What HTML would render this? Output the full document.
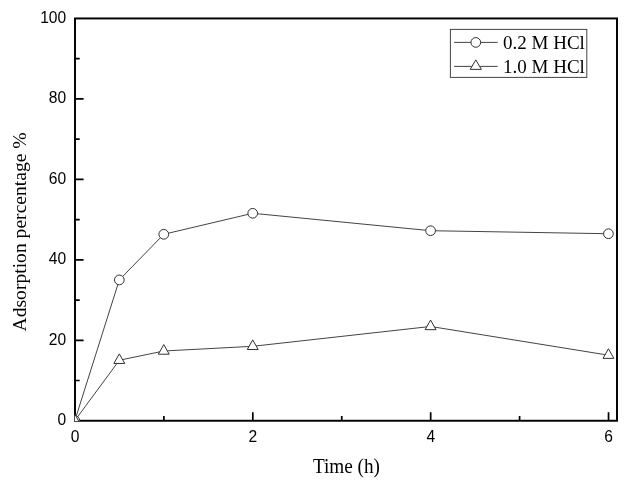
<!DOCTYPE html><html><head><meta charset="utf-8"><title>Adsorption percentage vs Time</title><style>html,body{margin:0;padding:0;background:#fff}svg{display:block}</style></head><body>
<svg xmlns="http://www.w3.org/2000/svg" width="638" height="484" viewBox="0 0 638 484">
<rect width="638" height="484" fill="#fff"/>
<defs><clipPath id="c"><rect x="74.85" y="18.45" width="542.15" height="402.50"/></clipPath></defs>
<g clip-path="url(#c)">
<polyline fill="none" stroke="#444" stroke-width="1" points="74.85,420.60 119.31,279.92 163.78,234.29 252.71,213.29 430.57,230.71 608.43,233.73"/>
<polyline fill="none" stroke="#444" stroke-width="1" points="74.85,420.60 119.31,360.25 163.78,351.00 252.71,346.30 430.57,326.46 608.43,355.19"/>
<circle cx="119.31" cy="279.92" r="4.85" fill="#fff" stroke="#303030" stroke-width="1"/>
<circle cx="163.78" cy="234.29" r="4.85" fill="#fff" stroke="#303030" stroke-width="1"/>
<circle cx="252.71" cy="213.29" r="4.85" fill="#fff" stroke="#303030" stroke-width="1"/>
<circle cx="430.57" cy="230.71" r="4.85" fill="#fff" stroke="#303030" stroke-width="1"/>
<circle cx="608.43" cy="233.73" r="4.85" fill="#fff" stroke="#303030" stroke-width="1"/>
<path d="M119.31 353.86 L124.77 363.45 L113.86 363.45 Z" fill="#fff" stroke="#303030" stroke-width="1"/>
<path d="M163.78 344.60 L169.23 354.20 L158.33 354.20 Z" fill="#fff" stroke="#303030" stroke-width="1"/>
<path d="M252.71 339.90 L258.16 349.50 L247.26 349.50 Z" fill="#fff" stroke="#303030" stroke-width="1"/>
<path d="M430.57 320.06 L436.02 329.66 L425.12 329.66 Z" fill="#fff" stroke="#303030" stroke-width="1"/>
<path d="M608.43 348.79 L613.88 358.39 L602.98 358.39 Z" fill="#fff" stroke="#303030" stroke-width="1"/>
</g>
<rect x="75.00" y="18.45" width="542.00" height="402.30" fill="none" stroke="#000" stroke-width="1.95"/>
<path d="M75.00 380.52 h4.70 M75.00 340.29 h8.60 M75.00 300.06 h4.70 M75.00 259.83 h8.60 M75.00 219.60 h4.70 M75.00 179.37 h8.60 M75.00 139.14 h4.70 M75.00 98.91 h8.60 M75.00 58.68 h4.70 M163.88 420.75 v-4.70 M252.81 420.75 v-8.60 M341.74 420.75 v-4.70 M430.67 420.75 v-8.60 M519.60 420.75 v-4.70 M608.53 420.75 v-8.60" stroke="#000" stroke-width="1.7" fill="none"/>
<g clip-path="url(#c)"><circle cx="74.85" cy="420.60" r="4.85" fill="#fff" stroke="#303030" stroke-width="1"/><path d="M74.85 414.20 L80.30 423.80 L69.40 423.80 Z" fill="#fff" stroke="#303030" stroke-width="1"/></g>
<g font-family="'Liberation Sans', Arial, sans-serif" font-size="16" fill="#000">
<text transform="translate(66.2 425.20) scale(0.975 1)" text-anchor="end">0</text>
<text transform="translate(66.2 344.74) scale(0.975 1)" text-anchor="end">20</text>
<text transform="translate(66.2 264.28) scale(0.975 1)" text-anchor="end">40</text>
<text transform="translate(66.2 183.82) scale(0.975 1)" text-anchor="end">60</text>
<text transform="translate(66.2 103.36) scale(0.975 1)" text-anchor="end">80</text>
<text transform="translate(66.2 22.90) scale(0.975 1)" text-anchor="end">100</text>
<text transform="translate(75.05 442.2) scale(0.975 1)" text-anchor="middle">0</text>
<text transform="translate(252.91 442.2) scale(0.975 1)" text-anchor="middle">2</text>
<text transform="translate(430.77 442.2) scale(0.975 1)" text-anchor="middle">4</text>
<text transform="translate(608.63 442.2) scale(0.975 1)" text-anchor="middle">6</text>
</g>
<g font-family="'Liberation Serif', 'Times New Roman', serif" fill="#000">
<text transform="translate(346.5 472.5) scale(0.965 1)" font-size="19.9" text-anchor="middle">Time (h)</text>
<text transform="translate(26 231.9) rotate(-90)" font-size="19.6" text-anchor="middle">Adsorption percentage %</text>
<rect x="450.4" y="29.4" width="136.4" height="48" fill="#fff" stroke="#444" stroke-width="1"/>
<path d="M454 42.4 H497.7 M454 66.4 H497.7" stroke="#444" stroke-width="1" fill="none"/>
<circle cx="475.80" cy="42.40" r="4.85" fill="#fff" stroke="#303030" stroke-width="1"/>
<path d="M475.80 59.87 L481.40 69.37 L470.20 69.37 Z" fill="#fff" stroke="#303030" stroke-width="1"/>
<text transform="translate(503.1 48.8) scale(0.96 1)" font-size="19.8">0.2 M HCl</text>
<text transform="translate(503.1 72.75) scale(0.96 1)" font-size="19.8">1.0 M HCl</text>
</g>
</svg></body></html>
